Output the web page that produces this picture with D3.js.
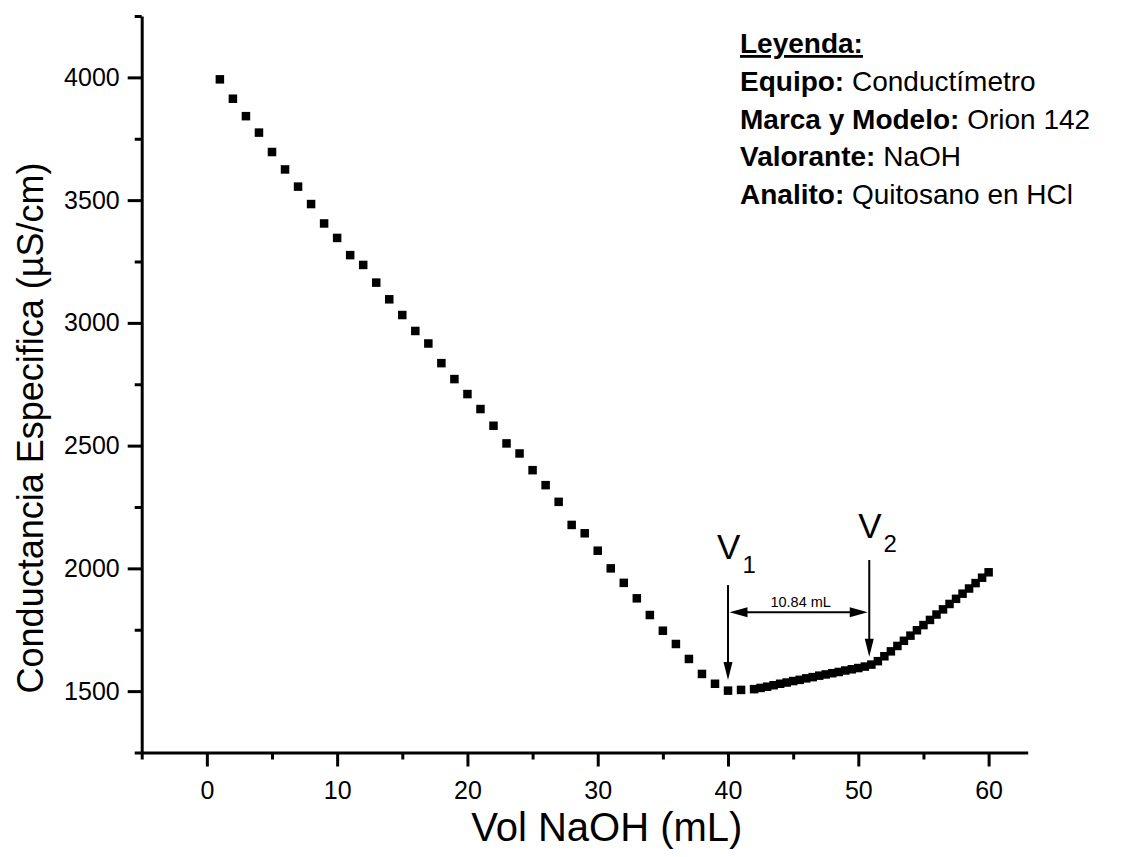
<!DOCTYPE html>
<html>
<head>
<meta charset="utf-8">
<script src="https://cdn.jsdelivr.net/npm/d3@7"></script>
<style>
  html, body { margin: 0; padding: 0; background: #fff; }
  svg { display: block; font-family: "Liberation Sans", Arial, Helvetica, sans-serif; }
</style>
</head>
<body>
<script>
// ---------- DATA ----------
const vol1 = [1,2,3,4,5,6,7,8,9,10,11,12,13,14,15,16,17,18,19,20,21,22,23,24,25,26,27,28,29,30,31,32,33,34,35,36,37,38,39,40,41];
const cond1 = [3992,3913,3842,3775,3696,3625,3555,3484,3405,3346,3276,3236,3164,3096,3032,2967,2916,2836,2771,2710,2649,2581,2509,2468,2400,2339,2271,2177,2143,2072,2000,1941,1878,1810,1746,1692,1631,1570,1530,1502,1505];
const vol2 = [42,42.5,43,43.5,44,44.5,45,45.5,46,46.5,47,47.5,48,48.5,49,49.5,50,50.5,51,51.5,52,52.5,53,53.5,54,54.5,55,55.5,56,56.5,57,57.5,58,58.5,59,59.5,60];
const cond2 = [1508,1513,1518,1524,1530,1535,1541,1546,1552,1557,1563,1568,1573,1578,1584,1589,1594,1600,1608,1622,1642,1662,1684,1705,1726,1748,1769,1790,1812,1833,1855,1876,1897,1918,1940,1962,1984];

const xTicks = [0,10,20,30,40,50,60];
const xMinorTicks = [-5,5,15,25,35,45,55];
const yTicks = [1500,2000,2500,3000,3500,4000];
const yMinorTicks = [1250,1750,2250,2750,3250,3750,4250];

const xTitle = "Vol NaOH (mL)";
const yTitle = "Conductancia Especifica (µS/cm)";

const legendTitle = "Leyenda:";
const legendKeys = ["Equipo:", "Marca y Modelo:", "Valorante:", "Analito:"];
const legendValues = ["Conductímetro", "Orion 142", "NaOH", "Quitosano en HCl"];

// equivalence points (mL) and annotation levels (µS/cm)
const eqLabels = ["1", "2"];
const eqVol = [40, 50.84];
const eqArrowTop = [1932, 2034];
const eqArrowTip = [1545, 1640];
const eqLabelLevel = [2038, 2124];
const diffLabel = "10.84 mL";
const diffLevel = 1821;

// ---------- CHART ----------
const W = 1140, H = 857;
const svg = d3.select("body").append("svg").attr("width", W).attr("height", H);

const x = d3.scaleLinear().domain([-5, 63]).range([141.7, 1027.7]);
const y = d3.scaleLinear().domain([1250, 4250]).range([752.5, 16]);

const axisColor = "#000";

// X axis
const gx = svg.append("g").attr("transform", `translate(0,${y(1250)})`);
gx.call(d3.axisBottom(x).tickValues(xTicks).tickSize(14).tickSizeOuter(0).tickPadding(14.5).tickFormat(d3.format("d")));
gx.append("g").call(d3.axisBottom(x).tickValues(xMinorTicks).tickSize(7).tickSizeOuter(0).tickFormat(""))
  .select(".domain").remove();
// Y axis
const gy = svg.append("g").attr("transform", `translate(${x(-5)},0)`);
gy.call(d3.axisLeft(y).tickValues(yTicks).tickSize(14).tickSizeOuter(0).tickPadding(8).tickFormat(d3.format("d")));
gy.append("g").call(d3.axisLeft(y).tickValues(yMinorTicks).tickSize(7).tickSizeOuter(0).tickFormat(""))
  .select(".domain").remove();

svg.selectAll(".domain").attr("stroke", axisColor).attr("stroke-width", 3);
svg.selectAll(".tick line").attr("stroke", axisColor).attr("stroke-width", 3);
svg.selectAll(".tick text").attr("font-size", 25).attr("fill", "#000")
  .attr("font-family", '"Liberation Sans", Arial, sans-serif');

// Titles
svg.append("text")
  .attr("x", x(30.7)).attr("y", 841)
  .attr("text-anchor", "middle").attr("font-size", 40).attr("fill", "#000")
  .text(xTitle);
svg.append("text")
  .attr("transform", `translate(43,${y(2572)}) rotate(-90)`)
  .attr("text-anchor", "middle").attr("font-size", 36).attr("fill", "#000")
  .text(yTitle);

// Data points (square markers)
const pts = vol1.map((v, i) => ({ v, c: cond1[i] }))
  .concat(vol2.map((v, i) => ({ v, c: cond2[i] })));
const S = 8.5;
svg.append("g").selectAll("rect").data(pts).join("rect")
  .attr("x", d => x(d.v) - S / 2)
  .attr("y", d => y(d.c) - S / 2)
  .attr("width", S).attr("height", S)
  .attr("fill", "#000");

// Annotations
const ann = svg.append("g");
function arrowHead(tx, ty, dir, len, half) {
  const p = d3.path();
  if (dir === "down") {
    p.moveTo(tx, ty); p.lineTo(tx - half, ty - len); p.lineTo(tx + half, ty - len);
  } else if (dir === "left") {
    p.moveTo(tx, ty); p.lineTo(tx + len, ty - half); p.lineTo(tx + len, ty + half);
  } else {
    p.moveTo(tx, ty); p.lineTo(tx - len, ty - half); p.lineTo(tx - len, ty + half);
  }
  p.closePath();
  return p.toString();
}
eqVol.forEach((v, i) => {
  const px = x(v);
  ann.append("line")
    .attr("x1", px).attr("x2", px)
    .attr("y1", y(eqArrowTop[i])).attr("y2", y(eqArrowTip[i]) - 10)
    .attr("stroke", "#000").attr("stroke-width", 2);
  ann.append("path").attr("d", arrowHead(px, y(eqArrowTip[i]), "down", 18, 4.5)).attr("fill", "#000");
  const t = ann.append("text")
    .attr("x", px - 11).attr("y", y(eqLabelLevel[i]))
    .attr("font-size", 35).attr("fill", "#000");
  t.append("tspan").text("V");
  t.append("tspan").attr("font-size", 24).attr("dx", 2).attr("dy", 14).text(eqLabels[i]);
});
// double arrow
const dy0 = y(diffLevel);
ann.append("line")
  .attr("x1", x(eqVol[0]) + 10).attr("x2", x(eqVol[1]) - 10)
  .attr("y1", dy0).attr("y2", dy0)
  .attr("stroke", "#000").attr("stroke-width", 2);
ann.append("path").attr("d", arrowHead(x(eqVol[0]) + 1.5, dy0, "left", 18, 5)).attr("fill", "#000");
ann.append("path").attr("d", arrowHead(x(eqVol[1]) - 1.5, dy0, "right", 18, 5)).attr("fill", "#000");
ann.append("text")
  .attr("x", (x(eqVol[0]) + x(eqVol[1])) / 2 + 2).attr("y", dy0 - 5)
  .attr("text-anchor", "middle").attr("font-size", 14.5).attr("fill", "#000")
  .text(diffLabel);

// Legend
const lg = svg.append("g").attr("transform", "translate(740,0)");
lg.append("text").attr("x", 0).attr("y", 53)
  .attr("font-size", 28).attr("font-weight", "bold").attr("text-decoration", "underline")
  .attr("fill", "#000").text(legendTitle);
legendKeys.forEach((k, i) => {
  const t = lg.append("text").attr("x", 0).attr("y", 91 + i * 37.5)
    .attr("font-size", 28).attr("fill", "#000");
  t.append("tspan").attr("font-weight", "bold").text(k + " ");
  t.append("tspan").text(legendValues[i]);
});
</script>
</body>
</html>
